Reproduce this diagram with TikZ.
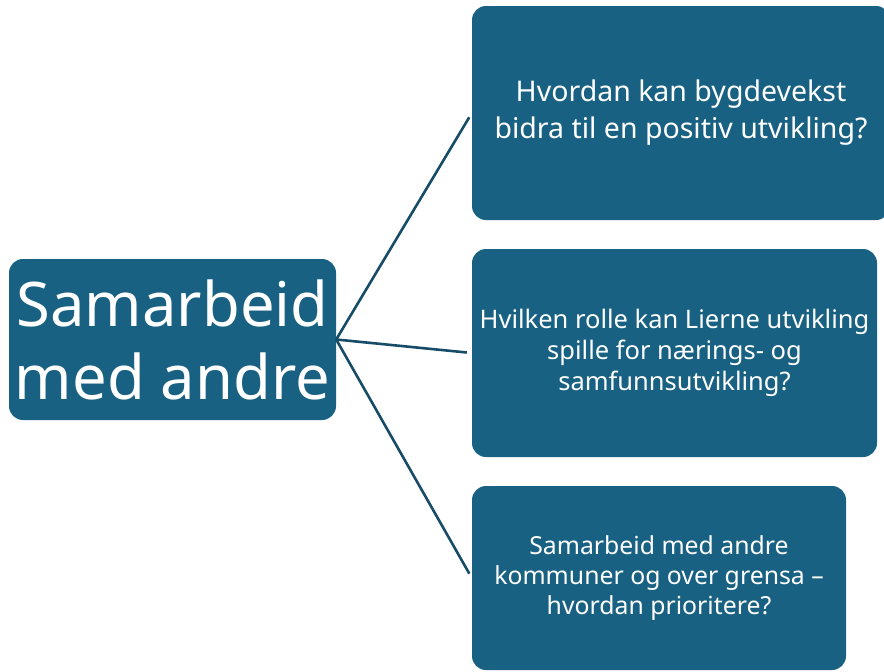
\documentclass[tikz,border=0pt]{standalone}
\usepackage{fontspec}
\setmainfont{Noto Sans}
\definecolor{boxfill}{RGB}{24,97,130}
\definecolor{linecol}{RGB}{22,76,104}
\begin{document}
\begin{tikzpicture}[x=1pt,y=-1pt,
  qbox/.style={fill=boxfill,rounded corners=14pt,text=white,align=center,inner sep=0pt},
  conn/.style={draw=linecol,line width=2.6pt,shorten >=5pt}]
\useasboundingbox (0,0) rectangle (884,672);
\clip (0,0) rectangle (884,672);
\node[qbox,minimum width=327pt,minimum height=161pt,font=\fontsize{61.5}{73}\selectfont] (L) at (172.5,339.5) {Samarbeid\\med andre};
\node[qbox,minimum width=418pt,minimum height=214pt,font=\fontsize{28.5}{37}\selectfont] (B1) at (681,113) {Hvordan kan bygdevekst\\bidra til en positiv utvikling?};
\node[qbox,minimum width=405pt,minimum height=208pt,font=\fontsize{25.5}{31}\selectfont] (B2) at (674.5,353) {Hvilken rolle kan Lierne utvikling\\spille for nærings- og\\samfunnsutvikling?};
\node[qbox,minimum width=374pt,minimum height=184pt,font=\fontsize{24.8}{30}\selectfont] (B3) at (659,578) {Samarbeid med andre\\kommuner og over grensa –\\hvordan prioritere?};
\draw[conn] (L.east) -- (B1.west);
\draw[conn] (L.east) -- (B2.west);
\draw[conn] (L.east) -- (B3.west);
\end{tikzpicture}
\end{document}
